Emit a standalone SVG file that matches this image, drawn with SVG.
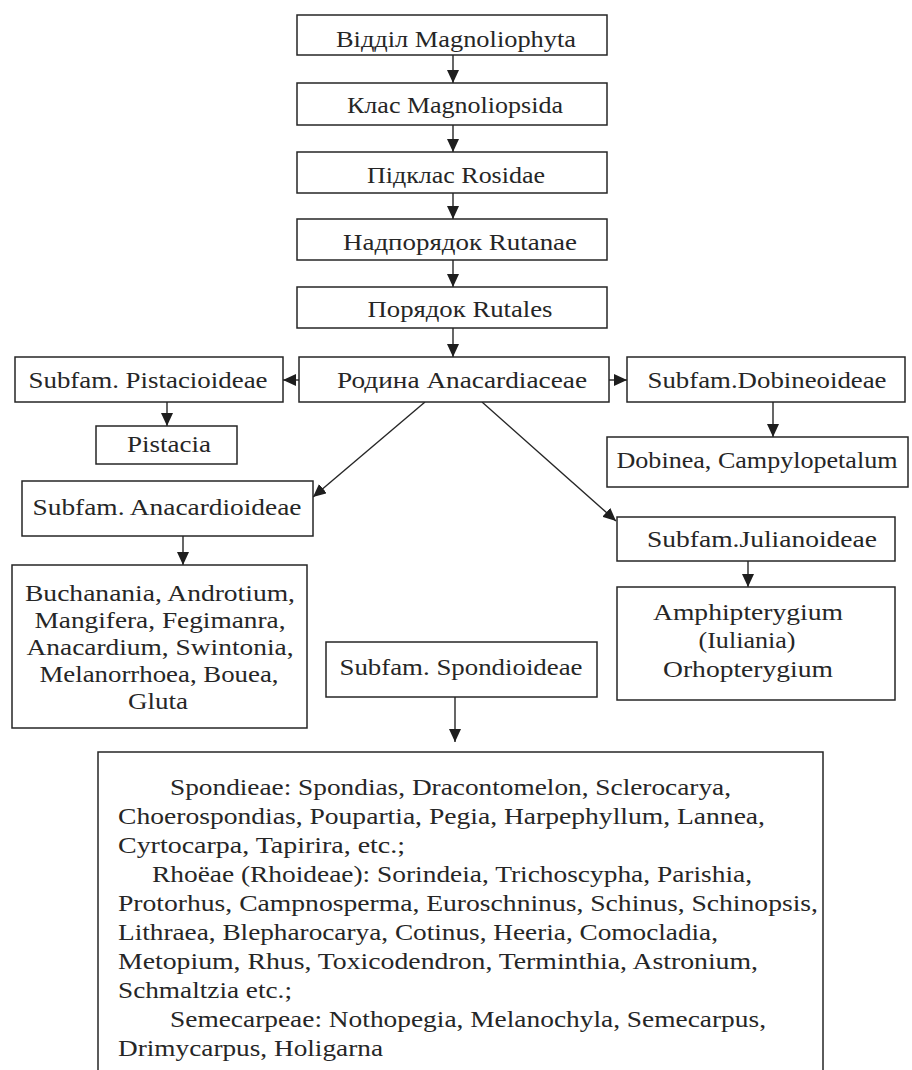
<svg xmlns="http://www.w3.org/2000/svg" width="912" height="1070" viewBox="0 0 912 1070">
<style>
.box{fill:#fff;stroke:#262626;stroke-width:1.5}
.t{font-family:"Liberation Serif","Times New Roman",serif;font-size:24px;fill:#262626}
.c{text-anchor:middle}
.ln{stroke:#262626;stroke-width:1.4;fill:none}
</style>
<defs>
<marker id="ah" markerUnits="userSpaceOnUse" markerWidth="14" markerHeight="12" refX="13" refY="6" orient="auto">
<path d="M0,0 L13,6 L0,12 z" fill="#1e1e1e"/>
</marker>
</defs>
<rect width="912" height="1070" fill="#fff"/>
<g id="connectors">
<line class="ln" x1="453" y1="55" x2="453" y2="83" marker-end="url(#ah)"/>
<line class="ln" x1="453" y1="125" x2="453" y2="152" marker-end="url(#ah)"/>
<line class="ln" x1="453" y1="193" x2="453" y2="219" marker-end="url(#ah)"/>
<line class="ln" x1="453" y1="260" x2="453" y2="287" marker-end="url(#ah)"/>
<line class="ln" x1="453" y1="328" x2="453" y2="357" marker-end="url(#ah)"/>
<line class="ln" x1="299" y1="380" x2="283" y2="380" marker-end="url(#ah)"/>
<line class="ln" x1="609" y1="380" x2="627" y2="380" marker-end="url(#ah)"/>
<line class="ln" x1="167" y1="402" x2="167" y2="426" marker-end="url(#ah)"/>
<line class="ln" x1="773" y1="402" x2="773" y2="437" marker-end="url(#ah)"/>
<line class="ln" x1="425" y1="402" x2="313" y2="497" marker-end="url(#ah)"/>
<line class="ln" x1="482" y1="402" x2="616" y2="521" marker-end="url(#ah)"/>
<line class="ln" x1="183" y1="536" x2="183" y2="565" marker-end="url(#ah)"/>
<line class="ln" x1="748" y1="561" x2="748" y2="587" marker-end="url(#ah)"/>
<line class="ln" x1="455" y1="697" x2="455" y2="742" marker-end="url(#ah)"/>
</g>
<g id="n1"><rect class="box" x="297" y="15" width="310" height="40"/><text class="t c" x="456" y="47" textLength="240" lengthAdjust="spacingAndGlyphs">Відділ Magnoliophyta</text></g>
<g id="n2"><rect class="box" x="297" y="83" width="310" height="42"/><text class="t c" x="455" y="113" textLength="216" lengthAdjust="spacingAndGlyphs">Клас Magnoliopsida</text></g>
<g id="n3"><rect class="box" x="297" y="152" width="310" height="41"/><text class="t c" x="456" y="183" textLength="178" lengthAdjust="spacingAndGlyphs">Підклас Rosidae</text></g>
<g id="n4"><rect class="box" x="297" y="219" width="310" height="41"/><text class="t c" x="460" y="250" textLength="234" lengthAdjust="spacingAndGlyphs">Надпорядок Rutanae</text></g>
<g id="n5"><rect class="box" x="297" y="287" width="310" height="41"/><text class="t c" x="460" y="317" textLength="185" lengthAdjust="spacingAndGlyphs">Порядок Rutales</text></g>
<g id="n6"><rect class="box" x="299" y="357" width="310" height="45"/><text class="t c" x="462" y="388" textLength="250" lengthAdjust="spacingAndGlyphs">Родина Anacardiaceae</text></g>
<g id="n7"><rect class="box" x="15" y="357" width="268" height="45"/><text class="t c" x="148" y="388" textLength="239" lengthAdjust="spacingAndGlyphs">Subfam. Pistacioideae</text></g>
<g id="n8"><rect class="box" x="627" y="357" width="278" height="45"/><text class="t c" x="767" y="388" textLength="239" lengthAdjust="spacingAndGlyphs">Subfam.Dobineoideae</text></g>
<g id="n9"><rect class="box" x="96" y="426" width="141" height="38"/><text class="t c" x="169" y="452" textLength="84" lengthAdjust="spacingAndGlyphs">Pistacia</text></g>
<g id="n10"><rect class="box" x="607" y="437" width="301" height="50"/><text class="t c" x="757" y="468" textLength="281" lengthAdjust="spacingAndGlyphs">Dobinea, Campylopetalum</text></g>
<g id="n11"><rect class="box" x="22" y="481" width="291" height="55"/><text class="t c" x="167" y="515" textLength="269" lengthAdjust="spacingAndGlyphs">Subfam. Anacardioideae</text></g>
<g id="n12"><rect class="box" x="617" y="517" width="278" height="44"/><text class="t c" x="762" y="547" textLength="230" lengthAdjust="spacingAndGlyphs">Subfam.Julianoideae</text></g>
<g id="n13"><rect class="box" x="12" y="565" width="295" height="163"/>
<text class="t c" x="160" y="601" textLength="270" lengthAdjust="spacingAndGlyphs">Buchanania, Androtium,</text>
<text class="t c" x="160" y="628" textLength="251" lengthAdjust="spacingAndGlyphs">Mangifera, Fegimanra,</text>
<text class="t c" x="160" y="655" textLength="267" lengthAdjust="spacingAndGlyphs">Anacardium, Swintonia,</text>
<text class="t c" x="159" y="682" textLength="239" lengthAdjust="spacingAndGlyphs">Melanorrhoea, Bouea,</text>
<text class="t c" x="158" y="709" textLength="60" lengthAdjust="spacingAndGlyphs">Gluta</text></g>
<g id="n14"><rect class="box" x="617" y="587" width="278" height="113"/>
<text class="t c" x="748" y="620" textLength="190" lengthAdjust="spacingAndGlyphs">Amphipterygium</text>
<text class="t c" x="747" y="648" textLength="97" lengthAdjust="spacingAndGlyphs">(Iuliania)</text>
<text class="t c" x="748" y="677" textLength="170" lengthAdjust="spacingAndGlyphs">Orhopterygium</text></g>
<g id="n15"><rect class="box" x="326" y="642" width="271" height="55"/><text class="t c" x="461" y="675" textLength="243" lengthAdjust="spacingAndGlyphs">Subfam. Spondioideae</text></g>
<g id="n16"><rect class="box" x="98" y="752" width="725" height="330"/>
<text class="t" x="170" y="795" textLength="561" lengthAdjust="spacingAndGlyphs">Spondieae: Spondias, Dracontomelon, Sclerocarya,</text>
<text class="t" x="118" y="824" textLength="647" lengthAdjust="spacingAndGlyphs">Choerospondias, Poupartia, Pegia, Harpephyllum, Lannea,</text>
<text class="t" x="118" y="853" textLength="287" lengthAdjust="spacingAndGlyphs">Cyrtocarpa, Tapirira, etc.;</text>
<text class="t" x="152" y="882" textLength="600" lengthAdjust="spacingAndGlyphs">Rhoëae (Rhoideae): Sorindeia, Trichoscypha, Parishia,</text>
<text class="t" x="118" y="911" textLength="700" lengthAdjust="spacingAndGlyphs">Protorhus, Campnosperma, Euroschninus, Schinus, Schinopsis,</text>
<text class="t" x="118" y="940" textLength="600" lengthAdjust="spacingAndGlyphs">Lithraea, Blepharocarya, Cotinus, Heeria, Comocladia,</text>
<text class="t" x="118" y="969" textLength="640" lengthAdjust="spacingAndGlyphs">Metopium, Rhus, Toxicodendron, Terminthia, Astronium,</text>
<text class="t" x="118" y="998" textLength="174" lengthAdjust="spacingAndGlyphs">Schmaltzia etc.;</text>
<text class="t" x="170" y="1027" textLength="596" lengthAdjust="spacingAndGlyphs">Semecarpeae: Nothopegia, Melanochyla, Semecarpus,</text>
<text class="t" x="118" y="1056" textLength="265" lengthAdjust="spacingAndGlyphs">Drimycarpus, Holigarna</text></g>
</svg>
